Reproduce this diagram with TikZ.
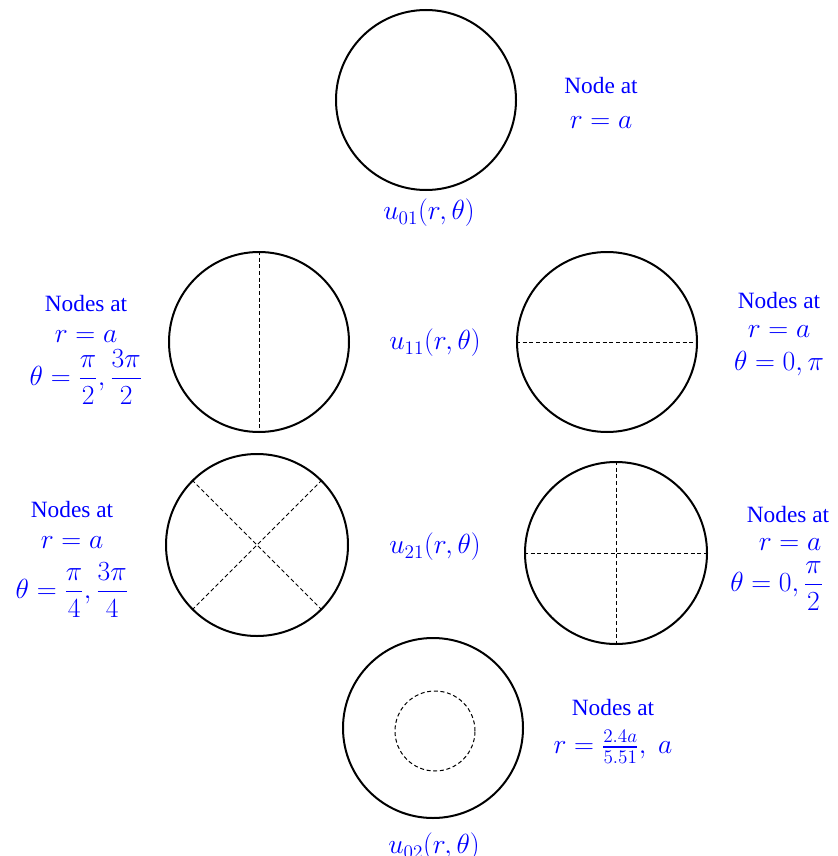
\documentclass[tikz,border=0pt]{standalone}
\usepackage{amsmath}
\usepackage{fontspec}
\setmainfont{Liberation Serif}
\begin{document}
\begin{tikzpicture}[x=0.75pt,y=-0.75pt,
  mem/.style={draw=black,line width=1.5pt},
  nodal/.style={draw=black,line width=0.75pt,dash pattern=on 3pt off 2pt},
  lbl/.style={text=blue,inner sep=0pt,font=\fontsize{17.5}{20}\selectfont},
  mlbl/.style={text=blue,inner sep=0pt,font=\fontsize{22}{26}\selectfont}]
\useasboundingbox (0,0) rectangle (838,856);
% top
\node[mem,circle,minimum size=135pt,inner sep=0pt] (c1) at (426,100) {};
\node[mlbl] (l1) at (429,213) {$u_{01}(r,\theta)$};
\node[lbl] (t1a) at (601,86) {Node at};
\node[mlbl] (t1b) at (601,123) {$r=a$};
% row 2
\node[mem,circle,minimum size=135pt,inner sep=0pt] (c2) at (259,342) {};
\draw[nodal] (c2.north) -- (c2.south);
\node[mem,circle,minimum size=135pt,inner sep=0pt] (c3) at (607,342) {};
\draw[nodal] (c3.west) -- (c3.east);
\node[mlbl] (l2) at (435,343) {$u_{11}(r,\theta)$};
\node[lbl] (t2a) at (86,304) {Nodes at};
\node[mlbl] (t2b) at (86,337) {$r=a$};
\node[mlbl] (t2c) at (86,377) {$\theta=\dfrac{\pi}{2},\dfrac{3\pi}{2}$};
\node[lbl] (t3a) at (779,301) {Nodes at};
\node[mlbl] (t3b) at (779,332) {$r=a$};
\node[mlbl] (t3c) at (779,364) {$\theta=0,\pi$};
% row 3
\node[mem,circle,minimum size=136.5pt,inner sep=0pt] (c4) at (257,545) {};
\draw[nodal] (c4.north west) -- (c4.south east);
\draw[nodal] (c4.north east) -- (c4.south west);
\node[mem,circle,minimum size=136.5pt,inner sep=0pt] (c5) at (616,553) {};
\draw[nodal] (c5.north) -- (c5.south);
\draw[nodal] (c5.west) -- (c5.east);
\node[mlbl] (l3) at (435,547) {$u_{21}(r,\theta)$};
\node[lbl] (t4a) at (72,510) {Nodes at};
\node[mlbl] (t4b) at (72,543) {$r=a$};
\node[mlbl] (t4c) at (72,590) {$\theta=\dfrac{\pi}{4},\dfrac{3\pi}{4}$};
\node[lbl] (t5a) at (788,515) {Nodes at};
\node[mlbl] (t5b) at (790,545) {$r=a$};
\node[mlbl,anchor=west] (t5c) at (730,586) {$\theta=0,\dfrac{\pi}{2}$};
% bottom
\node[mem,circle,minimum size=135pt,inner sep=0pt] (c6) at (433,728) {};
\node[nodal,circle,minimum size=60pt,inner sep=0pt] (c6i) at (435,731) {};
\node[mlbl] (l4) at (434,847) {$u_{02}(r,\theta)$};
\node[lbl] (t6a) at (613,708) {Nodes at};
\node[mlbl] (t6b) at (613,747) {$r=\tfrac{2.4a}{5.51},\ a$};
\end{tikzpicture}
\end{document}
